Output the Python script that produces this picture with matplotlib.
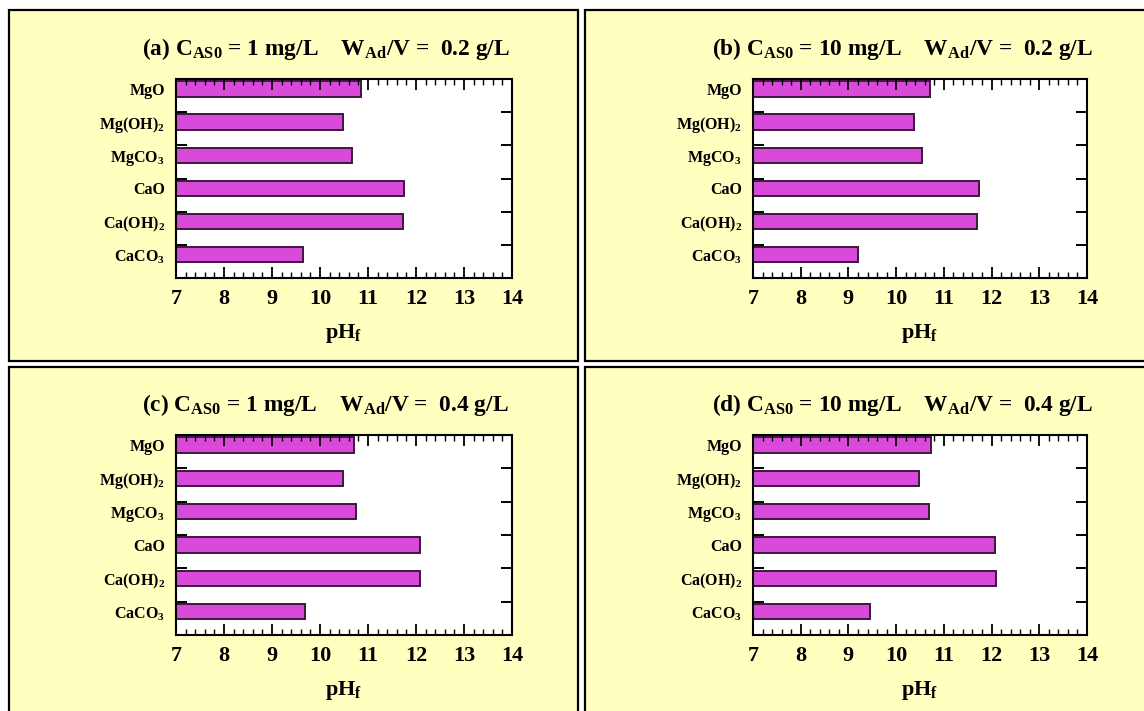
import matplotlib
matplotlib.use('Agg')
import matplotlib.pyplot as plt
from matplotlib.patches import Rectangle
from matplotlib.ticker import MultipleLocator

plt.rcParams['font.family'] = ['Liberation Serif', 'DejaVu Serif']
plt.rcParams['font.weight'] = 'bold'
plt.rcParams['axes.labelweight'] = 'bold'
plt.rcParams['mathtext.fontset'] = 'custom'
plt.rcParams['mathtext.rm'] = 'Liberation Serif:bold'
plt.rcParams['mathtext.it'] = 'Liberation Serif:bold'
plt.rcParams['mathtext.bf'] = 'Liberation Serif:bold'

# adsorbents, top to bottom
cats = ['MgO', r'Mg(OH)$_\mathrm{2}$', r'MgCO$_\mathrm{3}$', 'CaO',
        r'Ca(OH)$_\mathrm{2}$', r'CaCO$_\mathrm{3}$']

# final pH per panel
ph_a = [10.85, 10.48, 10.66, 11.76, 11.72, 9.65]
ph_b = [10.72, 10.38, 10.55, 11.73, 11.70, 9.20]
ph_c = [10.70, 10.47, 10.75, 12.08, 12.08, 9.69]
ph_d = [10.73, 10.48, 10.68, 12.07, 12.09, 9.46]

titles = [
    r'(a) C$_\mathrm{AS0}$ = 1 mg/L    W$_\mathrm{Ad}$/V =  0.2 g/L',
    r'(b) C$_\mathrm{AS0}$ = 10 mg/L    W$_\mathrm{Ad}$/V =  0.2 g/L',
    r'(c) C$_\mathrm{AS0}$ = 1 mg/L    W$_\mathrm{Ad}$/V =  0.4 g/L',
    r'(d) C$_\mathrm{AS0}$ = 10 mg/L    W$_\mathrm{Ad}$/V =  0.4 g/L',
]
data = [ph_a, ph_b, ph_c, ph_d]

W, H = 1144, 711
fig = plt.figure(figsize=(W / 100, H / 100), dpi=100)
fig.patch.set_facecolor('white')

BG = '#FFFFC0'
BAR = '#DA4ADA'
EDGE = '#3A1A3A'

# panel boxes in pixels: left, top, right, bottom
panels = [(9, 10, 578, 361), (585, 10, 1150, 361),
          (9, 367, 578, 720), (585, 367, 1150, 720)]
# axes boxes in pixels
axboxes = [(176, 79, 512, 278), (753, 79, 1087, 278),
           (176, 435, 512, 635), (753, 435, 1087, 635)]
title_x = [-0.1, -0.122, -0.1, -0.122]


def px(l, t, r, b):
    return [l / W, 1 - b / H, (r - l) / W, (b - t) / H]


for (l, t, r, b) in panels:
    x0, y0, w, h = px(l, t, r, b)
    fig.patches.append(Rectangle((x0, y0), w, h, transform=fig.transFigure,
                                 facecolor=BG, edgecolor='black', lw=1.6, zorder=-10))

for box, vals, title, tx in zip(axboxes, data, titles, title_x):
    ax = fig.add_axes(px(*box))
    ax.set_facecolor('white')
    pos = [i + 0.3 for i in range(len(cats))]
    ax.barh(pos, [v - 7 for v in vals], left=7, height=0.46,
            color=BAR, edgecolor=EDGE, linewidth=1.4)
    ax.set_xlim(7, 14)
    ax.set_ylim(6, 0)
    ax.xaxis.set_major_locator(MultipleLocator(1))
    ax.xaxis.set_minor_locator(MultipleLocator(0.2))
    ax.tick_params(axis='x', which='major', direction='in', length=8, width=1.3,
                   top=True, labelsize=16, pad=8)
    ax.tick_params(axis='x', which='minor', direction='in', length=4, width=1,
                   top=True)
    ax.set_yticks(pos)
    ax.set_yticklabels(cats)
    ax.set_yticks([1, 2, 3, 4, 5], minor=True)
    ax.tick_params(axis='y', which='major', length=0, labelsize=11.5, pad=8)
    ax.tick_params(axis='y', which='minor', direction='in', length=8, width=1.4,
                   right=True)
    for s in ax.spines.values():
        s.set_linewidth(1.5)
    ax.set_xlabel(r'pH$_\mathrm{f}$', fontsize=16, labelpad=9)
    ax.text(tx, 1.085, title, transform=ax.transAxes, ha='left',
            va='bottom', fontsize=16.8)

fig.savefig('out.png', dpi=100)
